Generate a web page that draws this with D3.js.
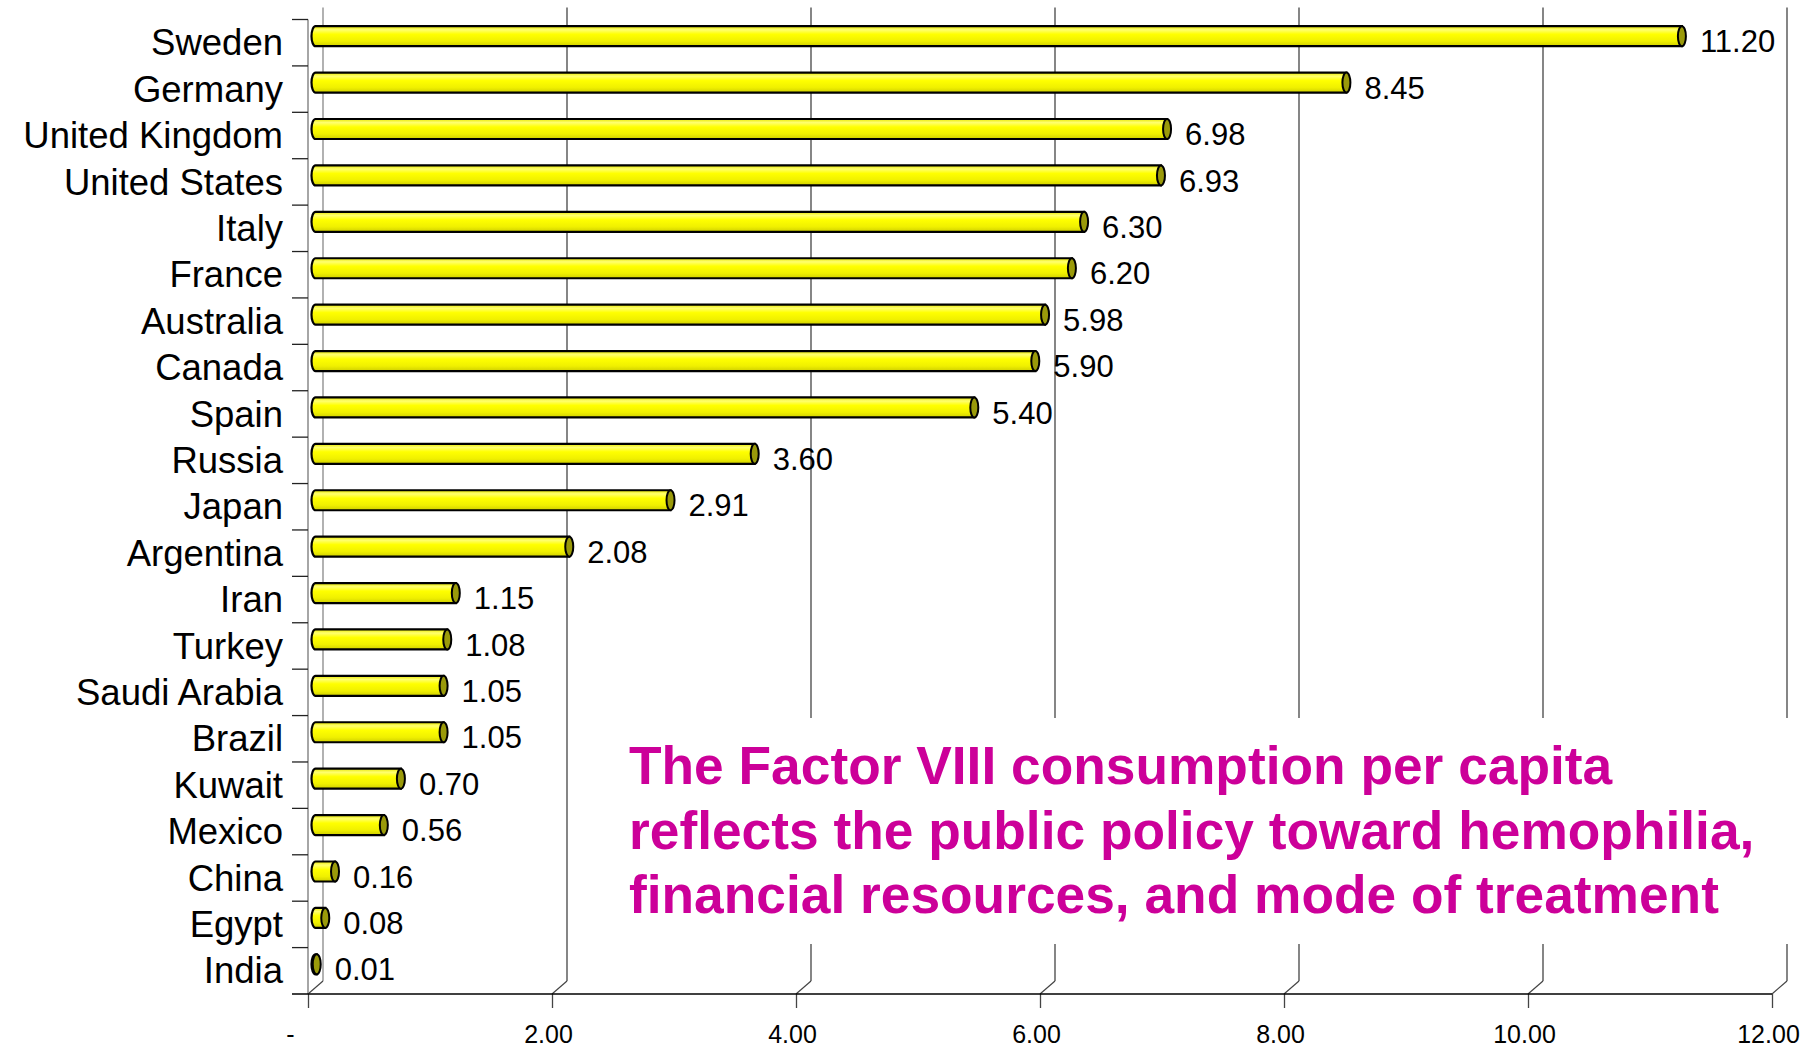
<!DOCTYPE html>
<html>
<head>
<meta charset="utf-8">
<script src="https://cdn.jsdelivr.net/npm/d3@7"></script>
<style>
  body { margin: 0; background: #fff; }
  text { font-family: "Liberation Sans", Arial, sans-serif; }
</style>
</head>
<body>
<div id="chart"></div>
<script>
// data
var categories = ["Sweden", "Germany", "United Kingdom", "United States", "Italy", "France",
    "Australia", "Canada", "Spain", "Russia", "Japan", "Argentina", "Iran", "Turkey",
    "Saudi Arabia", "Brazil", "Kuwait", "Mexico", "China", "Egypt", "India"];
var values = [11.20, 8.45, 6.98, 6.93, 6.30, 6.20, 5.98, 5.90, 5.40, 3.60, 2.91, 2.08,
    1.15, 1.08, 1.05, 1.05, 0.70, 0.56, 0.16, 0.08, 0.01];
var xTicks = [0, 2, 4, 6, 8, 10, 12];
var xTickLabels = ["-", "2.00", "4.00", "6.00", "8.00", "10.00", "12.00"];
var noteLines = ["The Factor VIII consumption per capita",
    "reflects the public policy toward hemophilia,",
    "financial resources, and mode of treatment"];

var W = 1816, H = 1048;
var depthX = 15, depthY = 13;   // 3D wall offset
var barH = 20, capRx = 4;

var svg = d3.select("#chart").append("svg")
    .attr("width", W).attr("height", H);

var defs = svg.append("defs");
var grad = defs.append("linearGradient").attr("id", "cyl")
    .attr("x1", 0).attr("y1", 0).attr("x2", 0).attr("y2", 1);
[[0, "#e8e800"], [0.18, "#ffff70"], [0.4, "#ffff00"], [0.75, "#f0f000"], [1, "#cfcf00"]]
    .forEach(s => grad.append("stop").attr("offset", s[0]).attr("stop-color", s[1]));

var x = d3.scaleLinear().domain([0, 12]).range([308, 1772]);
var y = d3.scaleBand().domain(categories).range([19.5, 994]).padding(0);
var floorY = y.range()[1];

// back wall gridlines
svg.append("g").selectAll("line")
    .data(xTicks)
    .join("line")
    .attr("x1", d => x(d) + depthX).attr("x2", d => x(d) + depthX)
    .attr("y1", y.range()[0] - depthY + 1).attr("y2", floorY - depthY)
    .attr("stroke", d => d == 0 ? "#888" : "#444").attr("stroke-width", 1.3);

// floor diagonals
svg.append("g").selectAll("line")
    .data(xTicks)
    .join("line")
    .attr("x1", d => x(d)).attr("y1", floorY)
    .attr("x2", d => x(d) + depthX).attr("y2", floorY - depthY)
    .attr("stroke", "#444").attr("stroke-width", 1.2);

// left wall front edge + category ticks
svg.append("line")
    .attr("x1", x(0)).attr("x2", x(0))
    .attr("y1", y.range()[0]).attr("y2", floorY)
    .attr("stroke", "#888").attr("stroke-width", 1.5);
svg.append("g").selectAll("line")
    .data(categories)
    .join("line")
    .attr("x1", x(0) - 16).attr("x2", x(0))
    .attr("y1", d => y(d)).attr("y2", d => y(d))
    .attr("stroke", "#222").attr("stroke-width", 1.3);

// bottom axis
var xAxis = d3.axisBottom(x)
    .tickValues(xTicks)
    .tickFormat((d, i) => xTickLabels[i])
    .tickSizeInner(14).tickSizeOuter(0).tickPadding(17);
var ax = svg.append("g")
    .attr("transform", "translate(0," + floorY + ")")
    .call(xAxis);
ax.select(".domain").remove();
ax.selectAll(".tick line").attr("stroke", "#444").attr("stroke-width", 1.3);
ax.selectAll(".tick text").attr("font-size", 25).attr("fill", "#000")
    .attr("dx", (d, i) => i == 0 ? -18 : -4)
    .attr("font-family", "Liberation Sans, Arial, sans-serif");
svg.append("line")
    .attr("x1", x(0) - 16).attr("x2", x(12))
    .attr("y1", floorY).attr("y2", floorY)
    .attr("stroke", "#000").attr("stroke-width", 1.5);

// note box (white, hides the gridlines)
svg.append("rect")
    .attr("x", 612).attr("y", 718).attr("width", 1190).attr("height", 226)
    .attr("fill", "#fff");

// bars as horizontal cylinders, sitting half way into the depth
var bars = svg.append("g").selectAll("g")
    .data(values)
    .join("g")
    .attr("transform", (d, i) => "translate(0," + (y(categories[i]) + y.bandwidth() / 2 - depthY / 2) + ")");

var x0 = x(0) + depthX / 2;
bars.append("path")
    .attr("d", d => {
        var x1 = x(d) + depthX / 2, h = barH / 2;
        return "M" + x1 + "," + (-h) + " L" + x0 + "," + (-h)
            + " A" + capRx + "," + h + " 0 0 0 " + x0 + "," + h
            + " L" + x1 + "," + h + " Z";
    })
    .attr("fill", "url(#cyl)").attr("stroke", "#000").attr("stroke-width", 2.2);
bars.append("ellipse")
    .attr("cx", d => x(d) + depthX / 2).attr("cy", 0)
    .attr("rx", capRx).attr("ry", barH / 2)
    .attr("fill", "#9a9a0a").attr("stroke", "#000").attr("stroke-width", 2);

// value labels
bars.append("text")
    .attr("x", d => x(d) + depthX / 2 + capRx + 14)
    .attr("y", 8)
    .attr("dominant-baseline", "middle")
    .attr("font-size", 31)
    .text(d => d3.format(".2f")(d));

// category labels
svg.append("g").selectAll("text")
    .data(categories)
    .join("text")
    .attr("x", 283)
    .attr("y", d => y(d) + y.bandwidth() / 2 + 3)
    .attr("text-anchor", "end")
    .attr("dominant-baseline", "middle")
    .attr("font-size", 36.5)
    .text(d => d);

// note text
svg.append("g").selectAll("text")
    .data(noteLines)
    .join("text")
    .attr("x", 629)
    .attr("y", (d, i) => 784 + i * 64.5)
    .attr("font-size", 53.3).attr("font-weight", "bold")
    .attr("fill", "#cc0099")
    .text(d => d);
</script>
</body>
</html>
